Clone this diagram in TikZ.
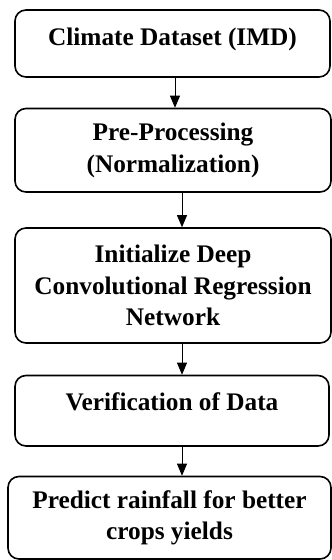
\documentclass[tikz,border=0pt]{standalone}
\usepackage{fontspec}
\setmainfont{Liberation Serif}
\usetikzlibrary{arrows.meta}
\begin{document}
\begin{tikzpicture}[x=1pt,y=1pt]
\fontsize{25.3}{31.5}\selectfont\bfseries
\useasboundingbox (0,0) rectangle (332,-560);
\begin{scope}[-{Triangle[width=10pt,length=12pt]},line width=0.9pt,
              block1/.style={rectangle,draw,line width=1.6pt,rounded corners=11pt,
                             align=center,inner sep=0pt}]
    \node [block1,minimum width=315pt,minimum height=67pt,text height=17pt,text depth=14pt] (1) at (172.5,-43.5) {Climate Dataset (IMD)};
    \node [block1,minimum width=316pt,minimum height=83.5pt] (2) at (173,-150.25) {Pre-Processing \\ (Normalization)};
    \node [block1,minimum width=316pt,minimum height=115pt] (3) at (173,-285.5) {Initialize Deep \\ Convolutional Regression \\ Network};
    \node [block1,minimum width=314pt,minimum height=70.5pt,text height=17pt,text depth=18pt] (4) at (172,-410.75) {Verification of Data};
    \node [block1,minimum width=323pt,minimum height=82.5pt] (5) at (169.5,-517.75) {Predict rainfall for better \\ crops yields};
    \coordinate (a) at (175,0);
    \coordinate (b) at (182,0);
    \path (1.south -| a) edge (2.north -| a);
    \path (2.south -| b) edge (3.north -| b);
    \path (3.south -| b) edge (4.north -| b);
    \path (4.south -| b) edge (5.north -| b);
\end{scope}
\end{tikzpicture}
\end{document}
